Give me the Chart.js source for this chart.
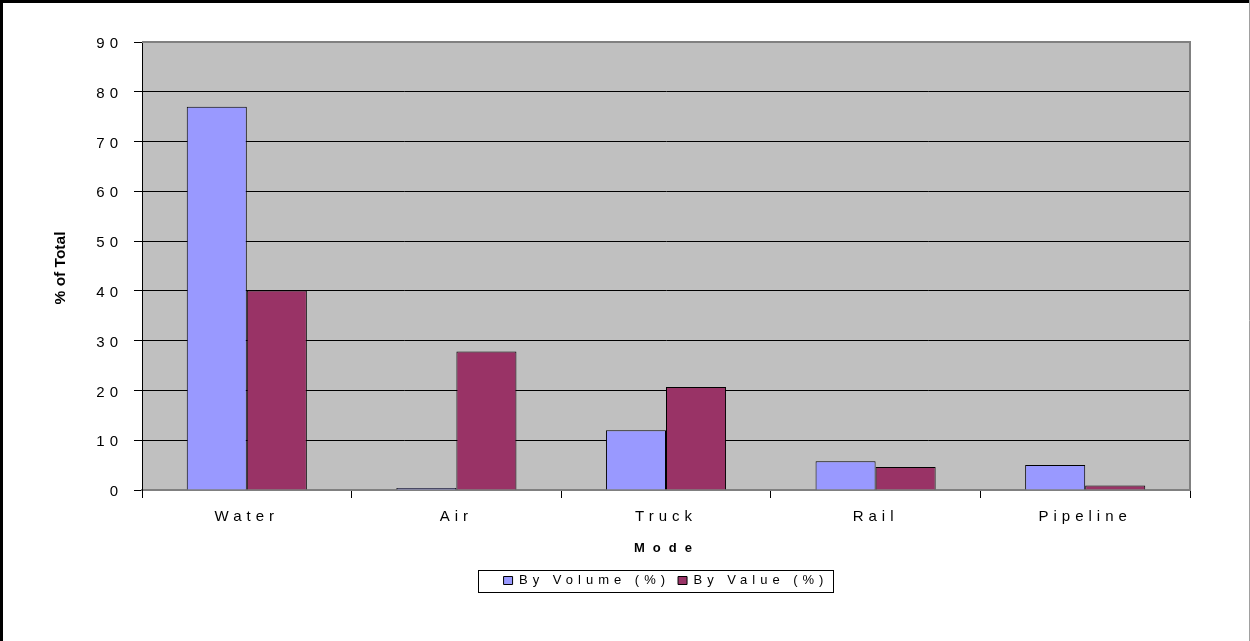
<!DOCTYPE html>
<html lang="en">
<head>
    <meta charset="UTF-8">
    <script src="https://cdn.jsdelivr.net/npm/chart.js"></script>
    <title>Mode Share</title>
    <style>
        body {
            margin: 0;
            padding: 0;
            background-color: #fff;
        }
        canvas {
            display: block;
        }
    </style>
</head>
<body>
    <canvas id="modeChart" width="1250" height="641"></canvas>

    <script>
        const modes = ['Water', 'Air', 'Truck', 'Rail', 'Pipeline'];
        const byVolume = [77, 0.4, 12, 5.8, 5];
        const byValue = [40.1, 27.8, 20.7, 4.6, 0.9];
        const seriesNames = ['By Volume (%)', 'By Value (%)'];
        const yTicks = [0, 10, 20, 30, 40, 50, 60, 70, 80, 90];

        const FONT = "'Liberation Sans', Arial, sans-serif";
        const SPACING = '5px';

        // excel style spaced text, plot background, frame and titles
        const excelLook = {
            id: 'excelLook',
            beforeUpdate(chart) { chart.ctx.letterSpacing = SPACING; },
            beforeLayout(chart) { chart.ctx.letterSpacing = SPACING; },
            beforeDraw(chart) {
                const { ctx, chartArea: a } = chart;
                ctx.letterSpacing = SPACING;
                ctx.save();
                ctx.fillStyle = '#c0c0c0';
                ctx.fillRect(a.left, a.top, a.right - a.left, a.bottom - a.top);
                ctx.restore();
            },
            afterDraw(chart) {
                const { ctx, chartArea: a } = chart;
                ctx.save();
                // plot border top / right
                ctx.strokeStyle = '#808080';
                ctx.lineWidth = 2;
                ctx.beginPath();
                ctx.moveTo(a.left, a.top);
                ctx.lineTo(a.right, a.top);
                ctx.lineTo(a.right, a.bottom);
                ctx.stroke();

                // outer frame
                ctx.strokeStyle = '#000';
                ctx.lineWidth = 3;
                ctx.beginPath();
                ctx.moveTo(1.5, 641);
                ctx.lineTo(1.5, 1.5);
                ctx.lineTo(1250, 1.5);
                ctx.stroke();
                ctx.strokeStyle = '#a0a0a0';
                ctx.lineWidth = 1;
                ctx.beginPath();
                ctx.moveTo(1249.5, 0);
                ctx.lineTo(1249.5, 641);
                ctx.stroke();

                // y title
                ctx.letterSpacing = '0px';
                ctx.fillStyle = '#000';
                ctx.font = 'bold 15.5px ' + FONT;
                ctx.textAlign = 'center';
                ctx.textBaseline = 'middle';
                ctx.translate(61, (a.top + a.bottom) / 2 + 2);
                ctx.rotate(-Math.PI / 2);
                ctx.fillText('% of Total', 0, 0);
                ctx.restore();

                // x title
                ctx.save();
                ctx.letterSpacing = '8px';
                ctx.fillStyle = '#000';
                ctx.font = 'bold 13px ' + FONT;
                ctx.textAlign = 'center';
                ctx.textBaseline = 'middle';
                ctx.fillText('Mode', (a.left + a.right) / 2 + 1, 548);
                ctx.restore();

                // legend box
                const hb = chart.legend.legendHitBoxes;
                if (hb && hb.length) {
                    const first = hb[0];
                    const last = hb[hb.length - 1];
                    const cy = first.top + first.height / 2;
                    ctx.save();
                    ctx.strokeStyle = '#000';
                    ctx.lineWidth = 1;
                    ctx.strokeRect(Math.round(first.left - 26) + 0.5, Math.round(cy - 11) + 0.5,
                        Math.round(last.left + last.width - first.left + 30), 22);
                    ctx.restore();
                }
                ctx.letterSpacing = SPACING;
            }
        };

        const ctx = document.getElementById('modeChart').getContext('2d');
        new Chart(ctx, {
            type: 'bar',
            data: {
                labels: modes,
                datasets: [{
                    label: seriesNames[0],
                    data: byVolume,
                    backgroundColor: '#9999ff',
                    borderColor: '#000',
                    borderWidth: 1
                }, {
                    label: seriesNames[1],
                    data: byValue,
                    backgroundColor: '#993366',
                    borderColor: '#000',
                    borderWidth: 1
                }]
            },
            options: {
                responsive: false,
                animation: false,
                layout: {
                    padding: { top: 42, right: 60, left: 0, bottom: 44 }
                },
                datasets: {
                    bar: {
                        categoryPercentage: 0.573,
                        barPercentage: 1.0
                    }
                },
                scales: {
                    x: {
                        afterFit(s) { s.height = 76; },
                        border: { color: '#808080', width: 2 },
                        grid: {
                            drawOnChartArea: false,
                            tickLength: 8,
                            tickColor: '#000'
                        },
                        ticks: {
                            color: '#000',
                            padding: 10,
                            font: { family: FONT, size: 15 }
                        }
                    },
                    y: {
                        min: 0,
                        max: 90,
                        afterFit(s) { s.width = 142; },
                        afterBuildTicks(s) { s.ticks = yTicks.map(v => ({ value: v })); },
                        border: { color: '#000', width: 1 },
                        grid: {
                            color: '#000',
                            lineWidth: 1,
                            tickLength: 8,
                            tickColor: '#000'
                        },
                        ticks: {
                            color: '#000',
                            padding: 11,
                            labelOffset: 2,
                            font: { family: FONT, size: 15 }
                        }
                    }
                },
                plugins: {
                    legend: {
                        position: 'bottom',
                        fullSize: false,
                        labels: {
                            color: '#000',
                            boxWidth: 9,
                            boxHeight: 8,
                            padding: 8,
                            font: { family: FONT, size: 13 }
                        }
                    },
                    tooltip: { enabled: false }
                }
            },
            plugins: [excelLook]
        });
    </script>
</body>
</html>
